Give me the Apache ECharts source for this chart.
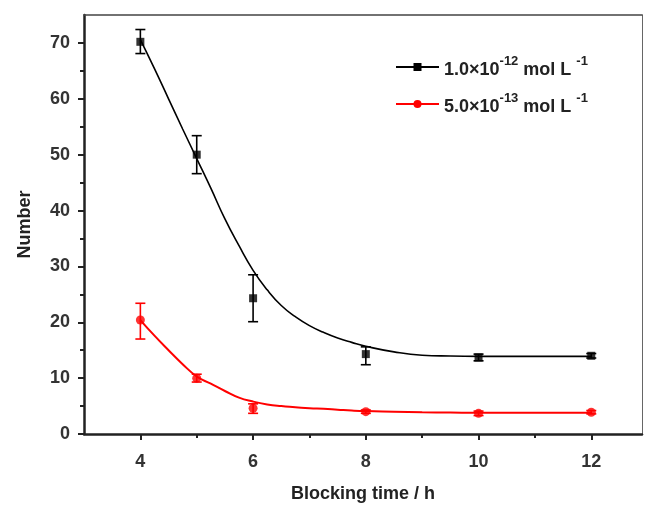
<!DOCTYPE html>
<html>
<head>
<meta charset="utf-8">
<script src="https://cdn.jsdelivr.net/npm/echarts@6/dist/echarts.min.js"></script>
<style>
  html, body { margin: 0; padding: 0; background: #fff; }
  #chart { width: 646px; height: 505px; }
</style>
</head>
<body>
<div id="chart"></div>
<script>
// Blocking time (h) at which each measurement was taken
const blockingTimes = [4, 5, 6, 8, 10, 12];

// Mean counts and error ranges, 1.0×10^-12 mol/L
const highMean = [70.2, 50.0, 24.3, 14.3, 13.7, 14.0];
const highLow  = [68.1, 46.6, 20.1, 12.4, 13.1, 13.6];
const highHigh = [72.4, 53.4, 28.5, 15.6, 14.3, 14.4];

// Mean counts and error ranges, 5.0×10^-13 mol/L
const lowMean = [20.4, 10.0, 4.6, 4.0, 3.7, 3.9];
const lowLow  = [17.0, 9.3, 3.7, 3.7, 3.3, 3.6];
const lowHigh = [23.4, 10.7, 5.4, 4.3, 4.1, 4.2];

// Fitted decay curves, sampled along the time axis
const fitTimes = [4, 4.25, 4.5, 4.75, 5, 5.25, 5.5, 5.75, 6, 6.25, 6.5, 6.75, 7, 7.25, 7.5, 7.75, 8, 8.5, 9, 9.5, 10, 11, 12];
const highFit  = [70.6, 65.4, 60.0, 54.6, 49.3, 44.0, 38.5, 33.7, 29.3, 25.8, 23.0, 21.0, 19.4, 18.2, 17.2, 16.4, 15.7, 14.7, 14.1, 13.95, 13.9, 13.9, 13.9];
const lowFit   = [20.4, 17.6, 15.0, 12.5, 10.3, 9.0, 7.7, 6.5, 5.8, 5.3, 5.0, 4.8, 4.6, 4.5, 4.35, 4.2, 4.1, 4.0, 3.9, 3.85, 3.8, 3.8, 3.8];

// Axis ticks
const xMajorTicks = [4, 6, 8, 10, 12];
const xMinorTicks = [5, 7, 9, 11];
const yMajorTicks = [0, 10, 20, 30, 40, 50, 60, 70];
const yMinorTicks = [5, 15, 25, 35, 45, 55, 65];

const seriesNames = ['1.0×10-12 mol L-1', '5.0×10-13 mol L-1'];
const legendRich = {
  [seriesNames[0]]: '{n|1.0×10}{s|-12}{n| mol L }{s|-1}',
  [seriesNames[1]]: '{n|5.0×10}{s|-13}{n| mol L }{s|-1}'
};

const BLACK = '#000000';
const RED = '#ff0000';
const FONT = '"Liberation Sans", Arial, sans-serif';

const zip = (xs, ys) => xs.map((x, i) => [x, ys[i]]);
const zip3 = (xs, a, b) => xs.map((x, i) => [x, a[i], b[i]]);

function errorBars(color) {
  return function (params, api) {
    const x = api.value(0);
    const lo = api.coord([x, api.value(1)]);
    const hi = api.coord([x, api.value(2)]);
    const half = 5;
    const style = { stroke: color, lineWidth: 1.6 };
    return {
      type: 'group',
      children: [
        { type: 'line', shape: { x1: lo[0], y1: lo[1], x2: hi[0], y2: hi[1] }, style },
        { type: 'line', shape: { x1: lo[0] - half, y1: lo[1], x2: lo[0] + half, y2: lo[1] }, style },
        { type: 'line', shape: { x1: hi[0] - half, y1: hi[1], x2: hi[0] + half, y2: hi[1] }, style }
      ]
    };
  };
}

const chart = echarts.init(document.getElementById('chart'), null, { renderer: 'canvas' });

const axisLabelStyle = { fontFamily: FONT, fontSize: 18, fontWeight: 'bold', color: '#333' };

chart.setOption({
  animation: false,
  backgroundColor: '#fff',
  grid: { left: 84, right: 4, top: 15, bottom: 71, containLabel: false, outerBoundsMode: 'none' },
  legend: {
    orient: 'vertical',
    left: 390,
    top: 50,
    itemWidth: 43,
    itemHeight: 10,
    itemGap: 13,
    data: seriesNames,
    formatter: name => legendRich[name],
    textStyle: {
      rich: {
        n: { fontFamily: FONT, fontSize: 18, fontWeight: 'bold', color: '#222', lineHeight: 24, verticalAlign: 'bottom' },
        s: { fontFamily: FONT, fontSize: 13, fontWeight: 'bold', color: '#222', lineHeight: 13, verticalAlign: 'top' }
      }
    }
  },
  xAxis: [
    {
      type: 'value', min: 3, max: 12.9, position: 'bottom',
      name: 'Blocking time / h', nameLocation: 'middle', nameGap: 51,
      nameTextStyle: { fontFamily: FONT, fontSize: 18, fontWeight: 'bold', color: '#222' },
      axisLine: { show: true, lineStyle: { color: '#222', width: 2.5 } },
      axisTick: { show: true, length: 6, customValues: xMajorTicks, lineStyle: { color: '#222', width: 2 } },
      axisLabel: Object.assign({ customValues: xMajorTicks, margin: 19 }, axisLabelStyle),
      splitLine: { show: false }
    },
    {
      type: 'value', min: 3, max: 12.9, position: 'bottom',
      axisLine: { show: false },
      axisTick: { show: true, length: 4, customValues: xMinorTicks, lineStyle: { color: '#222', width: 2 } },
      axisLabel: { show: false },
      splitLine: { show: false }
    },
    {
      type: 'value', min: 3, max: 12.9, position: 'top',
      axisLine: { show: true, onZero: false, lineStyle: { color: '#444', width: 1.5 } },
      axisTick: { show: false }, axisLabel: { show: false }, splitLine: { show: false }
    }
  ],
  yAxis: [
    {
      type: 'value', min: 0, max: 75, position: 'left',
      name: 'Number', nameLocation: 'middle', nameGap: 50, nameRotate: 90,
      nameTextStyle: { fontFamily: FONT, fontSize: 18, fontWeight: 'bold', color: '#222' },
      axisLine: { show: true, lineStyle: { color: '#222', width: 2.5 } },
      axisTick: { show: true, length: 6, customValues: yMajorTicks, lineStyle: { color: '#222', width: 2 } },
      axisLabel: Object.assign({ customValues: yMajorTicks, margin: 14 }, axisLabelStyle),
      splitLine: { show: false }
    },
    {
      type: 'value', min: 0, max: 75, position: 'left',
      axisLine: { show: false },
      axisTick: { show: true, length: 4, customValues: yMinorTicks, lineStyle: { color: '#222', width: 2 } },
      axisLabel: { show: false },
      splitLine: { show: false }
    },
    {
      type: 'value', min: 0, max: 75, position: 'right',
      axisLine: { show: true, onZero: false, lineStyle: { color: '#666', width: 1 } },
      axisTick: { show: false }, axisLabel: { show: false }, splitLine: { show: false }
    }
  ],
  series: [
    {
      name: seriesNames[0], type: 'line', smooth: 0.5,
      data: zip(fitTimes, highFit),
      symbol: 'rect', showSymbol: false,
      lineStyle: { color: BLACK, width: 1.6 }, itemStyle: { color: BLACK },
      z: 2
    },
    {
      name: seriesNames[1], type: 'line', smooth: 0.5,
      data: zip(fitTimes, lowFit),
      symbol: 'circle', showSymbol: false,
      lineStyle: { color: RED, width: 2 }, itemStyle: { color: RED },
      z: 2
    },
    {
      name: 'high-err', type: 'custom', renderItem: errorBars(BLACK),
      data: zip3(blockingTimes, highLow, highHigh), z: 3
    },
    {
      name: 'low-err', type: 'custom', renderItem: errorBars(RED),
      data: zip3(blockingTimes, lowLow, lowHigh), z: 3
    },
    {
      name: 'high-pts', type: 'scatter', symbol: 'rect', symbolSize: 8,
      data: zip(blockingTimes, highMean), itemStyle: { color: BLACK }, z: 4
    },
    {
      name: 'low-pts', type: 'scatter', symbol: 'circle', symbolSize: 9,
      data: zip(blockingTimes, lowMean), itemStyle: { color: RED }, z: 4
    }
  ]
});
</script>
</body>
</html>
